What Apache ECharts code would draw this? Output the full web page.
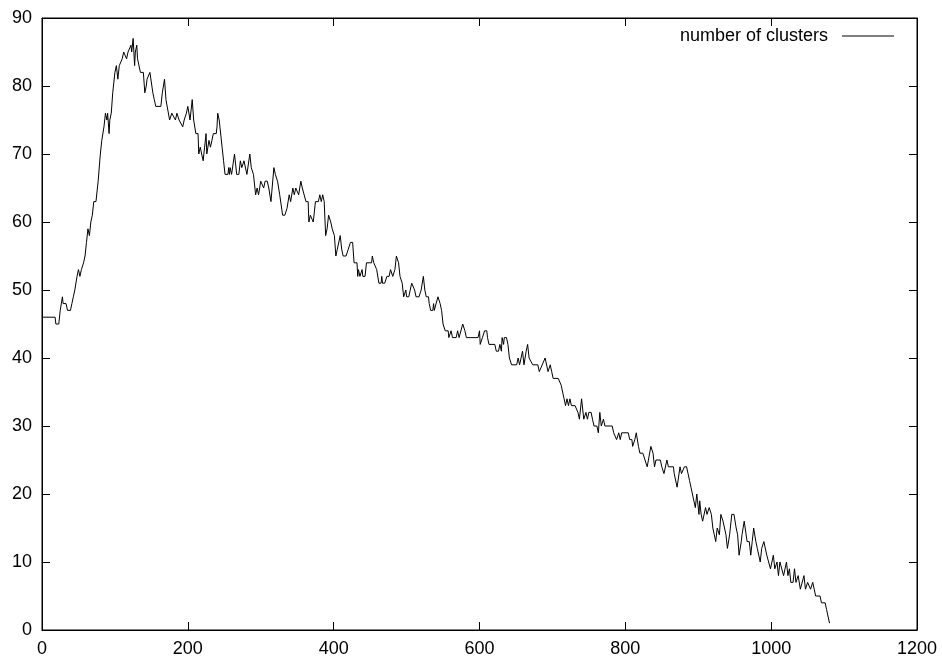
<!DOCTYPE html>
<html>
<head>
<meta charset="utf-8">
<script src="https://cdn.jsdelivr.net/npm/echarts@6/dist/echarts.min.js"></script>
<style>
html,body{margin:0;padding:0;background:#fff;}
#chart{width:942px;height:664px;}
</style>
</head>
<body>
<div id="chart"></div>
<script>
// x positions (step index) of the traced vertices
var steps = [0,18,19,23,25,28,29,33,35,39,41,43,45,48,50,52,54,57,59,61,63,65,67,69,71,74,77,80,82,85,87,88,89,90,92,93,95,97,100,102,104,106,108,110,112,114,116,118,120,122,123,125,127,128,130,131,133,135,139,141,143,144,146,148,150,152,154,156,163,165,168,170,172,175,178,180,183,185,186,188,190,193,195,198,200,203,206,208,211,214,215,217,221,223,225,226,229,231,233,235,239,240,241,243,244,247,249,251,255,256,257,258,260,264,267,270,272,274,277,279,281,283,285,287,289,290,293,295,297,300,302,304,306,309,311,314,318,320,323,326,328,330,333,336,339,341,344,346,348,350,352,355,357,362,365,366,368,370,372,375,379,381,383,385,387,389,391,393,396,398,401,403,405,407,409,411,413,417,420,423,426,428,432,433,434,436,439,440,443,445,452,453,455,459,462,465,466,467,470,473,476,478,481,484,486,487,489,491,494,496,499,500,503,505,507,509,511,513,517,520,523,525,527,530,531,533,536,537,538,540,543,546,548,550,553,557,558,560,561,563,565,568,570,572,574,577,580,582,588,594,598,600,601,604,607,610,611,613,621,623,626,628,630,631,633,634,637,639,641,644,651,653,655,659,661,664,666,668,670,673,680,682,690,694,697,699,701,708,710,712,714,716,718,720,722,724,726,728,731,735,737,740,743,746,748,750,753,755,757,761,763,765,767,770,772,782,784,786,788,791,793,795,804,806,809,810,813,815,818,820,824,827,830,835,838,840,842,848,850,853,857,859,866,867,871,875,877,881,884,886,888,890,892,896,898,899,901,902,904,906,910,912,915,918,920,922,924,926,928,929,931,933,934,936,938,940,943,946,949,952,954,956,959,960,963,965,967,970,972,974,976,979,981,985,987,990,992,994,996,999,1003,1005,1008,1010,1012,1017,1021,1023,1025,1027,1030,1032,1034,1037,1040,1045,1047,1050,1054,1057,1059,1061,1067,1069,1074,1076,1078,1080];
// number of clusters at each of those vertices
var clusterCounts = [46,46,45,45,47,49,48,48,47,47,48,49,50,52,53,52,53,54,55,57,59,58,60,61,63,63,66,70,72,74,76,76,75,76,73,75,76,79,82,83,81,83,83,84,85,85,84,85,85,86,85,87,83,85,86,84,84,82,82,79,80,81,81,82,82,79,78,77,77,79,81,78,78,75,76,76,75,76,76,75,75,74,75,76,77,75,78,75,73,73,70,71,69,71,73,70,72,71,72,73,73,74,76,75,75,71,69,67,67,68,67,68,67,70,67,67,69,68,69,69,67,67,70,68,68,67,64,65,64,66,66,65,66,66,65,63,68,67,66,64,64,61,61,62,64,63,65,64,65,65,64,66,65,63,63,60,61,61,60,63,63,64,63,64,63,58,59,61,60,59,58,55,56,56,58,56,55,55,56,57,57,54,54,52,53,52,53,52,52,54,54,55,54,53,51,51,52,51,51,52,52,53,52,53,55,55,54,52,51,49,50,49,49,50,51,51,50,49,49,50,52,50,49,49,48,47,47,48,47,47,49,48,47,45,44,44,43,43,44,43,43,43,44,43,43,45,44,43,43,43,43,44,42,43,44,44,43,42,42,41,41,42,41,43,42,43,43,42,40,39,39,40,39,41,39,41,42,40,40,39,39,38,40,38,39,38,37,37,37,36,35,34,33,34,33,34,33,33,33,32,31,34,31,32,31,32,32,31,30,30,29,32,30,31,30,30,29,29,28,29,28,29,29,28,28,27,28,29,27,26,26,25,24,27,26,24,25,25,24,23,25,24,24,23,21,24,23,24,24,23,22,21,20,18,20,19,17,19,17,16,18,17,18,17,15,14,13,15,15,14,17,17,16,15,14,12,14,17,17,15,14,11,13,14,16,16,13,13,11,13,15,13,12,10,12,13,13,11,11,9,11,9,10,8,10,8,10,8,9,7,7,9,7,8,6,8,6,7,6,7,6,5,5,4,4,3,3,1];
var xTicks = [0,200,400,600,800,1000,1200];
var yTicks = [0,10,20,30,40,50,60,70,80,90];

var data = steps.map(function(x,i){return [x, clusterCounts[i]];});
var chart = echarts.init(document.getElementById('chart'));
var font = 'Liberation Sans, Arial, Helvetica, sans-serif';
function tick(){ return {show:true, inside:true, length:8, lineStyle:{color:'#000', width:1}}; }
function line(){ return {show:true, onZero:false, lineStyle:{color:'#000', width:1}}; }
function plain(v){ return String(v); }
chart.setOption({
  animation:false,
  backgroundColor:'#fff',
  grid:{left:42, right:25, top:18, bottom:34, show:true, borderColor:'#000', borderWidth:1},
  legend:{
    show:true, right:48, top:27, align:'right', padding:0,
    icon:'rect', itemWidth:52, itemHeight:1,
    itemStyle:{color:'#000'},
    textStyle:{fontFamily:font, fontSize:18, color:'#000', padding:[0,9,0,0]},
    data:['number of clusters']
  },
  xAxis:[{
    type:'value', min:xTicks[0], max:xTicks[xTicks.length-1], interval:200, position:'bottom',
    axisLine:line(), axisTick:tick(), splitLine:{show:false},
    axisLabel:{fontFamily:font, fontSize:18, color:'#000', margin:10, formatter:plain}
  },{
    type:'value', min:xTicks[0], max:xTicks[xTicks.length-1], interval:200, position:'top',
    axisLine:line(), axisTick:tick(), splitLine:{show:false}, axisLabel:{show:false}
  }],
  yAxis:[{
    type:'value', min:yTicks[0], max:yTicks[yTicks.length-1], interval:10, position:'left',
    axisLine:line(), axisTick:tick(), splitLine:{show:false},
    axisLabel:{fontFamily:font, fontSize:18, color:'#000', margin:10, formatter:plain}
  },{
    type:'value', min:yTicks[0], max:yTicks[yTicks.length-1], interval:10, position:'right',
    axisLine:line(), axisTick:tick(), splitLine:{show:false}, axisLabel:{show:false}
  }],
  series:[{
    name:'number of clusters', type:'line', data:data,
    xAxisIndex:0, yAxisIndex:0,
    symbol:'none', showSymbol:false,
    lineStyle:{color:'#000', width:1},
    itemStyle:{color:'#000'}
  }]
});
</script>
</body>
</html>
